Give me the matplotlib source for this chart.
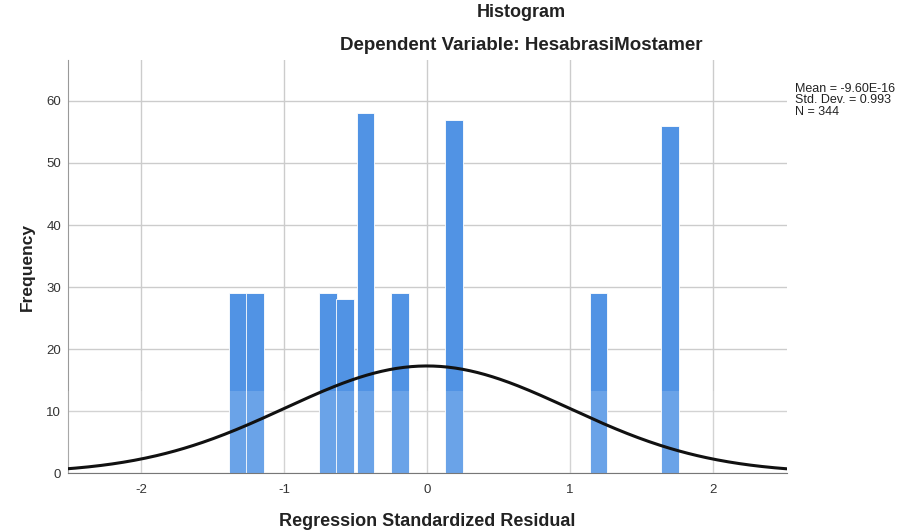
import numpy as np
import matplotlib
matplotlib.use("Agg")
import matplotlib.pyplot as plt

plt.rcParams['font.family'] = ['Liberation Sans', 'DejaVu Sans']

# residual bins (centres) and their counts
bin_centers = [-1.32, -1.20, -0.69, -0.57, -0.43, -0.19, 0.19, 1.20, 1.70]
counts = [29, 29, 29, 28, 58, 29, 57, 29, 56]
bin_width = 0.125

# summary stats shown at the right
mean = -9.60e-16
std_dev = 0.993
n_obs = 344

x_ticks = [-2, -1, 0, 1, 2]
y_ticks = [0, 10, 20, 30, 40, 50, 60]

fig = plt.figure(figsize=(9.07, 5.31), dpi=100)
ax = fig.add_axes([0.075, 0.109, 0.793, 0.778])

ax.bar(bin_centers, counts, width=bin_width, color='#5193e4',
       edgecolor='white', linewidth=0.6, zorder=2)

# lighter band over the lower part of the bars
ax.axhspan(0, 13.2, color='white', alpha=0.15, zorder=3, linewidth=0)

# normal curve scaled to counts
xs = np.linspace(-2.55, 2.6, 400)
pdf = np.exp(-0.5 * ((xs - mean) / std_dev) ** 2) / (std_dev * np.sqrt(2 * np.pi))
ax.plot(xs, n_obs * bin_width * pdf, color='#111111', linewidth=2.2, zorder=4)

ax.set_xlim(-2.51, 2.52)
ax.set_ylim(0, 66.6)
ax.set_xticks(x_ticks)
ax.set_yticks(y_ticks)
ax.set_xticklabels([str(t) for t in x_ticks])
ax.tick_params(length=0, labelsize=9.5, colors='#333333')
ax.tick_params(axis='x', pad=8)
ax.tick_params(axis='y', pad=5)
ax.grid(True, color='#cccccc', linewidth=1.0, zorder=0)
ax.set_axisbelow(True)

for side in ['top', 'right']:
    ax.spines[side].set_visible(False)
ax.spines['left'].set_color('#999999')
ax.spines['bottom'].set_color('#777777')

ax.set_xlabel('Regression Standardized Residual', fontsize=13, fontweight='bold',
              color='#222222', labelpad=12)
ax.set_ylabel('Frequency', fontsize=12.5, fontweight='bold', color='#222222', labelpad=8)

fig.text(0.575, 0.976, 'Histogram', ha='center', va='center', fontsize=13,
         fontweight='bold', color='#222222')
fig.text(0.575, 0.915, 'Dependent Variable: HesabrasiMostamer', ha='center',
         va='center', fontsize=13.5, fontweight='bold', color='#222222')

fig.text(0.877, 0.811, 'Mean = -9.60E-16\nStd. Dev. = 0.993\nN = 344',
         ha='left', va='center', fontsize=9, color='#222222', linespacing=0.95)

fig.savefig('out.png', dpi=100)
